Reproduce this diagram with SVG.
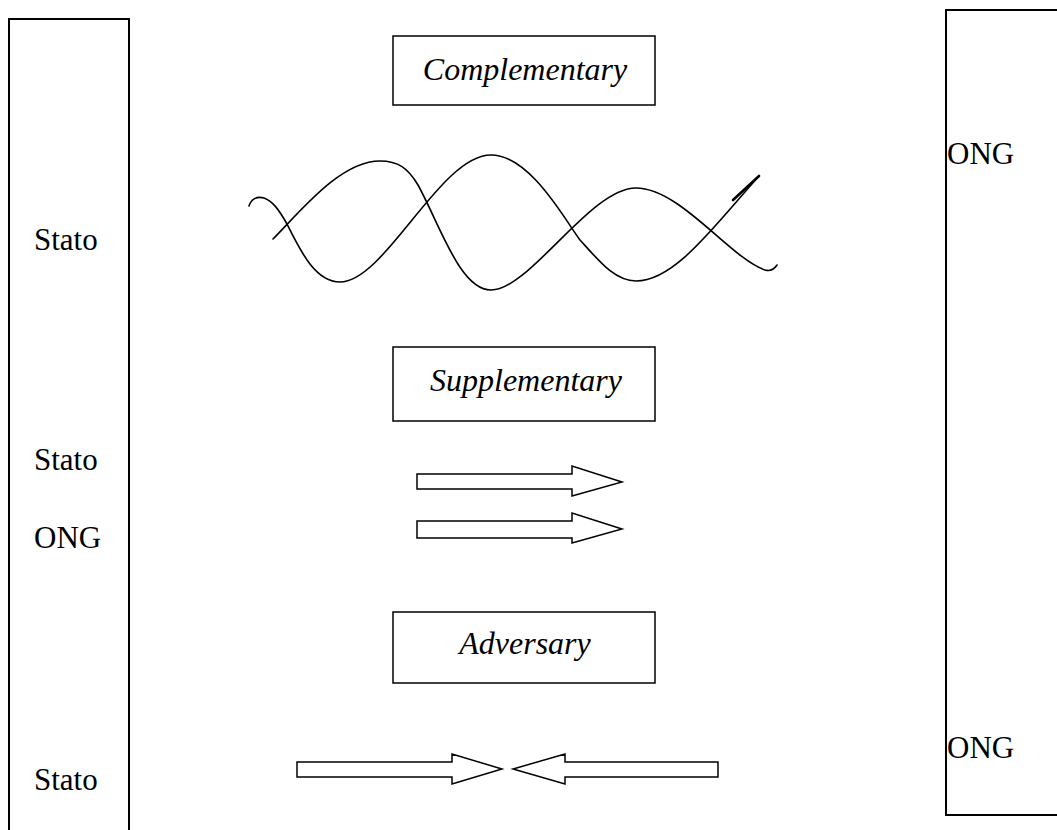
<svg xmlns="http://www.w3.org/2000/svg" width="1057" height="830" viewBox="0 0 1057 830">
<style>
.frame{fill:none;stroke:#000;stroke-width:2}
.box{fill:#fff;stroke:#000;stroke-width:1.5}
.lbl{font-family:"Liberation Serif","Times New Roman",serif;font-size:31px;fill:#000}
.it{font-family:"Liberation Serif","Times New Roman",serif;font-style:italic;font-size:32px;fill:#000;text-anchor:middle}
.wave{fill:none;stroke:#000;stroke-width:1.6;stroke-linecap:round}
.arr{fill:#fff;stroke:#000;stroke-width:1.5;stroke-linejoin:miter}
</style>
<rect width="1057" height="830" fill="#fff"/>
<g id="left-panel">
<path class="frame" d="M9,830 L9,19 L129,19 L129,830"/>
<text class="lbl" x="34" y="250">Stato</text>
<text class="lbl" x="34" y="470">Stato</text>
<text class="lbl" x="34" y="548">ONG</text>
<text class="lbl" x="34" y="790">Stato</text>
</g>
<g id="right-panel">
<path class="frame" d="M1057,10 L946,10 L946,815 L1057,815"/>
<text class="lbl" x="947" y="164">ONG</text>
<text class="lbl" x="947" y="758">ONG</text>
</g>
<g id="complementary">
<rect class="box" x="393" y="36" width="262" height="69"/>
<text class="it" x="525" y="80">Complementary</text>
</g>
<g id="supplementary">
<rect class="box" x="393" y="347" width="262" height="74"/>
<text class="it" x="526" y="391">Supplementary</text>
</g>
<g id="adversary">
<rect class="box" x="393" y="612" width="262" height="71"/>
<text class="it" x="525" y="654">Adversary</text>
</g>
<g id="connectors">
<path class="wave" d="M249,206 C251,199 257,196 264,198 C272,201 278,208 287,224 C300,250 315,282 340,282 C385,282 440,155 491,155 C530,155 565,220 580,240 C600,262 615,281 636,281 C675,281 715,225 759,176"/>
<path d="M733,200 L759,176" fill="none" stroke="#000" stroke-width="2.6" stroke-linecap="round"/>
<path class="wave" d="M273,239 C300,212 340,161 380,161 C398,161 408,168 418,185 C440,225 460,290 491,290 C530,290 590,188 636,188 C680,188 730,258 765,270 C772,272 775,268 777,265"/>
<path class="arr" d="M417,474 L572,474 L572,466 L622,482 L572,496 L572,489 L417,489 Z"/>
<path class="arr" d="M417,521 L572,521 L572,513 L622,529 L572,543 L572,538 L417,538 Z"/>
<path class="arr" d="M297,762 L452,762 L452,754 L502,769 L452,784 L452,777 L297,777 Z"/>
<path class="arr" d="M718,762 L565,762 L565,754 L513,769 L565,784 L565,777 L718,777 Z"/>
</g>
</svg>
